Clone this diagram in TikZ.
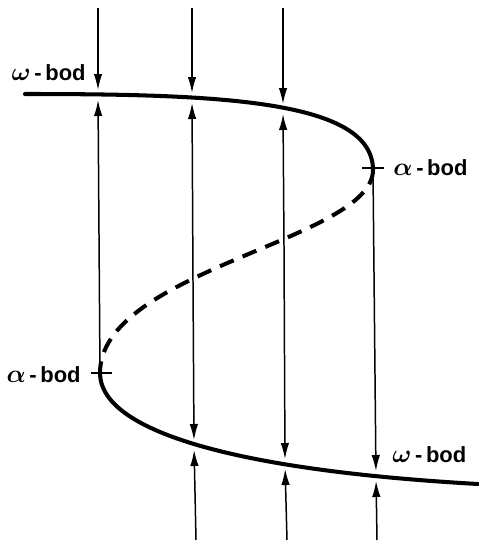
\documentclass[tikz,border=0pt]{standalone}
\usepackage{fontspec}
\usepackage{amsmath}
\setmainfont{Liberation Sans}
\usetikzlibrary{arrows.meta, positioning}
\tikzset{
  branch/.style={line width=2.3pt, line cap=round},
  unstable/.style={line width=2.3pt, dash pattern=on 8.5pt off 5.5pt},
  flow/.style={-{Latex[length=0.32cm, width=0.17cm]}, line width=0.85pt, shorten >=0.1cm},
  tickmark/.style={line width=0.9pt},
  lbl/.style={font=\fontsize{12.5}{15}\selectfont\bfseries, inner sep=0pt}
}
\newcommand{\grk}[1]{{\fontsize{15}{15}\selectfont$\boldsymbol{#1}$}}

\begin{document}
\begin{tikzpicture}[x=0.02cm, y=-0.02cm]
  \useasboundingbox (0,0) rectangle (478,542);

  % Turning points and crossings
  \coordinate (aL) at (100,373);
  \coordinate (aR) at (373,170);
  \coordinate (tA) at (98,95);
  \coordinate (tB) at (192,98);
  \coordinate (tC) at (283,109);
  \coordinate (dB) at (193,281);
  \coordinate (dC) at (284,245);
  \coordinate (bB) at (194,445);
  \coordinate (bC) at (285,464);
  \coordinate (bD) at (376,476);

  % Free ends
  \coordinate (sA) at (98,8);
  \coordinate (sB) at (192,8);
  \coordinate (sC) at (283,8);
  \coordinate (eB) at (196,540);
  \coordinate (eC) at (287,540);
  \coordinate (eD) at (377,540);

  % S-curve
  \draw[branch] (25,94) .. controls (220,94) and (373,100) .. (aR);
  \draw[unstable] (aR) .. controls (373,240) and (100,270) .. (aL);
  \draw[branch] (aL) .. controls (100,430) and (230,470) .. (478,484);

  % Ticks at the alpha points
  \draw[tickmark] (aL) ++(-9,0) -- ++(21,0);
  \draw[tickmark] (aR) ++(-11,-2) -- ++(22,0);

  % Arrows from above
  \draw[flow] (sA) -- (tA);
  \draw[flow] (sB) -- (tB);
  \draw[flow] (sC) -- (tC);

  % Arrows out of the unstable branch
  \draw[flow] (aL) -- (tA);
  \draw[flow] (dB) -- (tB);
  \draw[flow] (dB) -- (bB);
  \draw[flow] (dC) -- (tC);
  \draw[flow] (dC) -- (bC);
  \draw[flow] (aR) -- (bD);

  % Arrows from below
  \draw[flow] (eB) -- (bB);
  \draw[flow] (eC) -- (bC);
  \draw[flow] (eD) -- (bD);

  % Labels
  \node[lbl, anchor=east] (w1) at (86,73) {\grk{\omega}\,-\,bod};
  \node[lbl, anchor=west] (a1) at (393,168) {\grk{\alpha}\,-\,bod};
  \node[lbl, anchor=east] (a2) at (81,375) {\grk{\alpha}\,-\,bod};
  \node[lbl, anchor=west] (w2) at (392,455) {\grk{\omega}\,-\,bod};
\end{tikzpicture}
\end{document}
